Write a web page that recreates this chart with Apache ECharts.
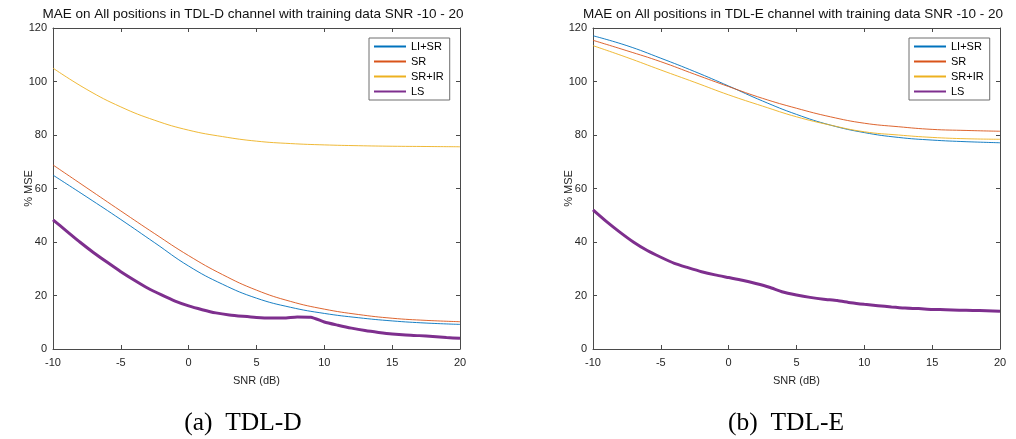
<!DOCTYPE html>
<html>
<head>
<meta charset="utf-8">
<script src="https://cdn.jsdelivr.net/npm/echarts@6/dist/echarts.min.js"></script>
<style>html,body{margin:0;padding:0;background:#fff}#c{width:1016px;height:439px}</style>
</head>
<body>
<div id="c"></div>
<script>
// SNR grid for thin lines (dB)
const snr = [-10, -7.5, -5, -2.5, 0, 2.5, 5, 7.5, 10, 12.5, 15, 17.5, 20];
// SNR grid for LS lines (dB)
const snrLS = [-10,-9,-8,-7,-6,-5,-4,-3,-2,-1,0,1,2,3,4,5,6,7,8,9,10,11,12,13,14,15,16,17,18,19,20];
const xTicks = [-10, -5, 0, 5, 10, 15, 20];
const yTicks = [0, 20, 40, 60, 80, 100, 120];
const seriesNames = ['LI+SR', 'SR', 'SR+IR', 'LS'];

// (a) TDL-D
const dLISR = [65.0, 56.8, 48.4, 39.7, 31.0, 24.2, 19.0, 15.6, 13.3, 11.7, 10.5, 9.7, 9.2];
const dSR   = [68.8, 60.2, 51.6, 43.1, 34.9, 27.8, 22.0, 17.8, 14.9, 12.9, 11.5, 10.7, 10.2];
const dSRIR = [105.0, 97.0, 90.5, 85.5, 81.8, 79.4, 77.7, 76.8, 76.3, 76.0, 75.8, 75.7, 75.6];
const dLS   = [48.3, 44.1, 39.9, 36.0, 32.4, 28.9, 25.7, 22.7, 20.2, 17.9, 16.1, 14.7, 13.5, 12.7, 12.2, 11.8,
               11.6, 11.6, 12.0, 11.9, 10.1, 8.9, 7.8, 6.9, 6.2, 5.6, 5.2, 5.0, 4.7, 4.3, 4.0];

// (b) TDL-E
const eLISR = [117.1, 113.4, 108.7, 103.7, 98.3, 92.7, 87.7, 83.7, 80.9, 79.1, 78.1, 77.5, 77.1];
const eSR   = [115.4, 111.5, 107.4, 102.7, 98.1, 93.7, 90.0, 86.8, 84.4, 83.1, 82.1, 81.7, 81.4];
const eSRIR = [113.4, 109.0, 104.3, 99.7, 95.0, 90.8, 86.8, 83.7, 81.2, 80.0, 79.1, 78.6, 78.4];
const eLS   = [52.0, 47.6, 43.6, 39.9, 36.8, 34.3, 32.0, 30.4, 28.9, 27.7, 26.7, 25.7, 24.5, 23.1, 21.3, 20.2,
               19.3, 18.6, 18.1, 17.3, 16.7, 16.2, 15.7, 15.3, 15.1, 14.8, 14.7, 14.5, 14.4, 14.3, 14.1];

const titleD = 'MAE on All positions in TDL-D channel with training data SNR -10 - 20';
const titleE = 'MAE on All positions in TDL-E channel with training data SNR -10 - 20';
const capD = '(a)  TDL-D';
const capE = '(b)  TDL-E';
const xName = 'SNR (dB)';
const yName = '% MSE';

const colors = {'LI+SR': '#0072BD', 'SR': '#D95319', 'SR+IR': '#EDB120', 'LS': '#7E2F8E'};
const axisColor = '#262626';
const lineAxisColor = '#4a4a4a';
const FONT = 'Liberation Sans, Arial, Helvetica, sans-serif';

function pairs(xs, ys) { return xs.map((x, i) => [x, ys[i]]); }

function xAx(grid, top) {
  return {
    type: 'value', gridIndex: grid, min: xTicks[0], max: xTicks[xTicks.length - 1], interval: 5,
    position: top ? 'top' : 'bottom',
    name: top ? '' : xName, nameLocation: 'middle', nameGap: 26, nameMoveOverlap: false,
    nameTextStyle: {fontSize: 11, color: axisColor, fontFamily: FONT},
    axisLine: {onZero: false, lineStyle: {color: lineAxisColor, width: 1}},
    axisTick: {inside: true, length: 4, lineStyle: {color: lineAxisColor}},
    axisLabel: {show: !top, fontSize: 11, color: axisColor, margin: 8, fontFamily: FONT},
    splitLine: {show: false}
  };
}
function yAx(grid, right) {
  return {
    type: 'value', gridIndex: grid, min: yTicks[0], max: yTicks[yTicks.length - 1], interval: 20,
    position: right ? 'right' : 'left',
    name: right ? '' : yName, nameLocation: 'middle', nameGap: 19, nameMoveOverlap: false,
    nameTextStyle: {fontSize: 11, color: axisColor, fontFamily: FONT},
    axisLine: {onZero: false, lineStyle: {color: lineAxisColor, width: 1}},
    axisTick: {inside: true, length: 4, lineStyle: {color: lineAxisColor}},
    axisLabel: {show: !right, fontSize: 11, color: axisColor, margin: 6, fontFamily: FONT},
    splitLine: {show: false}
  };
}

function line(name, xs, ys, xi, yi, width, smooth) {
  return {
    name: name, type: 'line', xAxisIndex: xi, yAxisIndex: yi,
    data: pairs(xs, ys), symbol: 'none', smooth: smooth,
    lineStyle: {color: colors[name], width: width},
    itemStyle: {color: colors[name]}
  };
}

function legend(left) {
  return {
    data: seriesNames, orient: 'vertical', left: left, top: 38,
    itemWidth: 32, itemHeight: 13, itemGap: 4, padding: [3, 6, 3, 4],
    backgroundColor: '#fff', borderColor: '#6e6e6e', borderWidth: 1, borderRadius: 0,
    itemStyle: {color: 'rgba(0,0,0,0)', borderWidth: 0, opacity: 0},
    textStyle: {fontSize: 11, color: '#000', fontFamily: FONT},
    selectedMode: false
  };
}

const chart = echarts.init(document.getElementById('c'), null, {renderer: 'canvas'});
chart.setOption({
  animation: false,
  backgroundColor: '#fff',
  grid: [
    {left: 53, top: 28, width: 407, height: 321},
    {left: 593, top: 28, width: 407, height: 321}
  ],
  xAxis: [xAx(0, false), xAx(0, true), xAx(1, false), xAx(1, true)],
  yAxis: [yAx(0, false), yAx(0, true), yAx(1, false), yAx(1, true)],
  legend: [legend(369), legend(909)],
  series: [
    line('LI+SR', snr, dLISR, 0, 0, 0.9, 0.45),
    line('SR', snr, dSR, 0, 0, 0.9, 0.45),
    line('SR+IR', snr, dSRIR, 0, 0, 0.9, 0.45),
    line('LS', snrLS, dLS, 0, 0, 3, 0.2),
    line('LI+SR', snr, eLISR, 2, 2, 0.9, 0.45),
    line('SR', snr, eSR, 2, 2, 0.9, 0.45),
    line('SR+IR', snr, eSRIR, 2, 2, 0.9, 0.45),
    line('LS', snrLS, eLS, 2, 2, 3, 0.2)
  ],
  graphic: [
    {type: 'text', x: 253, y: 14, style: {text: titleD, fontSize: 13.5, fontFamily: FONT, fill: '#111', align: 'center', verticalAlign: 'middle'}},
    {type: 'text', x: 793, y: 14, style: {text: titleE, fontSize: 13.5, fontFamily: FONT, fill: '#111', align: 'center', verticalAlign: 'middle'}},
    {type: 'text', x: 243, y: 423, scaleX: 0.98, style: {text: capD, fontSize: 26, fontFamily: 'Liberation Serif, Times New Roman, serif', fill: '#000', align: 'center', verticalAlign: 'middle'}},
    {type: 'text', x: 786, y: 423, scaleX: 0.98, style: {text: capE, fontSize: 26, fontFamily: 'Liberation Serif, Times New Roman, serif', fill: '#000', align: 'center', verticalAlign: 'middle'}}
  ]
});
</script>
</body>
</html>
